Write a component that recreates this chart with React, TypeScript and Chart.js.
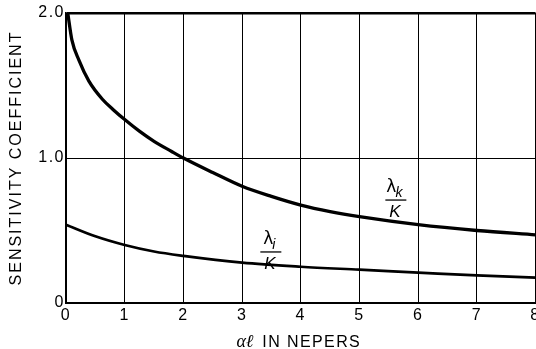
import React, { useEffect, useRef } from "react";
import { Chart, registerables } from "chart.js";

Chart.register(...registerables);

// ---- data ----
const xTickValues = [0, 1, 2, 3, 4, 5, 6, 7, 8];
const yTickValues = [0, 1, 2];
const yTickLabels = ["0", "1.0", "2.0"];

// lambda_k / K curve
const kX = [0.03, 0.1, 0.22, 0.39, 0.62, 0.8, 1, 1.25, 1.5, 1.8, 2, 2.5, 3, 3.5, 4, 4.5, 5, 6, 7, 8];
const kY = [2.0, 1.815, 1.675, 1.53, 1.405, 1.335, 1.265, 1.185, 1.115, 1.045, 1.0, 0.9, 0.805, 0.735, 0.675, 0.63, 0.595, 0.54, 0.5, 0.47];

// lambda_i / K curve
const iX = [0, 0.5, 1, 1.5, 2, 3, 4, 5, 6, 7, 8];
const iY = [0.54, 0.46, 0.4, 0.355, 0.325, 0.278, 0.25, 0.23, 0.21, 0.19, 0.175];

// curve label anchors (fraction-bar centre, data coordinates)
const kLabel = { x: 5.62, y: 0.71, sub: "k" };
const iLabel = { x: 3.49, y: 0.352, sub: "i" };

const yTitle = "SENSITIVITY COEFFICIENT";
const xTitleSymbol = "αℓ";
const xTitleText = "IN NEPERS";

const SANS = '"Liberation Sans", Arial, sans-serif';

function drawFraction(ctx: CanvasRenderingContext2D, cx: number, cy: number, sub: string) {
  ctx.save();
  (ctx as any).letterSpacing = "0px";
  ctx.fillStyle = "#000";
  ctx.strokeStyle = "#000";
  ctx.textBaseline = "alphabetic";
  ctx.textAlign = "left";
  ctx.font = '17px "DejaVu Sans", sans-serif';
  const lw = ctx.measureText("λ").width;
  ctx.font = 'italic 14px "Liberation Sans", sans-serif';
  const sw = ctx.measureText(sub).width;
  const total = lw + sw;
  const left = cx - total / 2 - 1;
  ctx.font = '17px "DejaVu Sans", sans-serif';
  ctx.fillText("λ", left, cy - 8);
  ctx.font = 'italic 14px "Liberation Sans", sans-serif';
  ctx.fillText(sub, left + lw - 1, cy - 3);
  ctx.lineWidth = 1.3;
  ctx.beginPath();
  ctx.moveTo(cx - 10.5, cy);
  ctx.lineTo(cx + 10.5, cy);
  ctx.stroke();
  ctx.font = 'italic 17px "Liberation Sans", sans-serif';
  ctx.textAlign = "center";
  ctx.fillText("K", cx - 1, cy + 17);
  ctx.restore();
}

const textPlugin = {
  id: "textPlugin",
  beforeDraw(chart: any) {
    (chart.ctx as any).letterSpacing = "1.5px";
  },
  afterDraw(chart: any) {
    const ctx: CanvasRenderingContext2D = chart.ctx;
    const { chartArea, scales } = chart;
    const xs = scales.x;
    const ys = scales.y;

    // curve labels
    drawFraction(ctx, xs.getPixelForValue(kLabel.x), ys.getPixelForValue(kLabel.y), kLabel.sub);
    drawFraction(ctx, xs.getPixelForValue(iLabel.x), ys.getPixelForValue(iLabel.y), iLabel.sub);

    // y axis title
    ctx.save();
    ctx.fillStyle = "#000";
    (ctx as any).letterSpacing = "2px";
    ctx.font = `16px ${SANS}`;
    ctx.textAlign = "center";
    ctx.textBaseline = "middle";
    ctx.translate(17, (chartArea.top + chartArea.bottom) / 2 + 1);
    ctx.rotate(-Math.PI / 2);
    ctx.fillText(yTitle, 1, 0);
    ctx.restore();

    // x axis title
    ctx.save();
    ctx.fillStyle = "#000";
    ctx.textBaseline = "alphabetic";
    ctx.textAlign = "left";
    (ctx as any).letterSpacing = "0px";
    ctx.font = 'italic 18px "Liberation Serif", "DejaVu Serif", serif';
    const symW = ctx.measureText(xTitleSymbol).width;
    (ctx as any).letterSpacing = "1.4px";
    ctx.font = `16px ${SANS}`;
    const txtW = ctx.measureText(xTitleText).width;
    const gap = 9;
    const totalW = symW + gap + txtW;
    const cx = (chartArea.left + chartArea.right) / 2 - 2;
    const startX = cx - totalW / 2;
    const baseY = 347;
    (ctx as any).letterSpacing = "0px";
    ctx.font = 'italic 18px "Liberation Serif", "DejaVu Serif", serif';
    ctx.fillText(xTitleSymbol, startX, baseY);
    (ctx as any).letterSpacing = "1.4px";
    ctx.font = `16px ${SANS}`;
    ctx.fillText(xTitleText, startX + symW + gap, baseY);
    ctx.restore();

    (ctx as any).letterSpacing = "0px";
  },
};

export default function App() {
  const ref = useRef<HTMLCanvasElement>(null);

  useEffect(() => {
    const canvas = ref.current;
    if (!canvas) return;
    const chart = new Chart(canvas, {
      type: "line",
      data: {
        datasets: [
          {
            label: "λk/K",
            data: kX.map((x, i) => ({ x, y: kY[i] })),
            borderColor: "#000",
            borderWidth: 3.3,
            pointRadius: 0,
            cubicInterpolationMode: "monotone",
            fill: false,
          },
          {
            label: "λi/K",
            data: iX.map((x, i) => ({ x, y: iY[i] })),
            borderColor: "#000",
            borderWidth: 2.7,
            pointRadius: 0,
            cubicInterpolationMode: "monotone",
            fill: false,
          },
        ],
      },
      options: {
        responsive: false,
        animation: false,
        devicePixelRatio: 1,
        layout: { padding: { left: 0, top: 13, right: 0, bottom: 0 } },
        plugins: {
          legend: { display: false },
          tooltip: { enabled: false },
        },
        scales: {
          x: {
            type: "linear",
            min: 0,
            max: 8,
            afterBuildTicks: (s: any) => {
              s.ticks = xTickValues.map((v) => ({ value: v }));
            },
            afterFit: (s: any) => {
              s.height = 46;
            },
            ticks: {
              color: "#000",
              font: { family: SANS, size: 16 },
              padding: 3,
              maxRotation: 0,
              autoSkip: false,
            },
            grid: { color: "#000", lineWidth: 1, drawTicks: false },
            border: { color: "#000", width: 2 },
          },
          y: {
            type: "linear",
            min: 0,
            max: 2,
            afterBuildTicks: (s: any) => {
              s.ticks = yTickValues.map((v) => ({ value: v }));
            },
            afterFit: (s: any) => {
              s.width = 66;
            },
            ticks: {
              color: "#000",
              font: { family: SANS, size: 16 },
              padding: 1,
              callback: (v: any) => yTickLabels[yTickValues.indexOf(Number(v))],
            },
            grid: {
              color: "#000",
              drawTicks: false,
              lineWidth: (c: any) => (c.tick && c.tick.value === 2 ? 2.5 : c.tick && c.tick.value === 0 ? 0 : 1),
            },
            border: { color: "#000", width: 1.5 },
          },
        },
      },
      plugins: [textPlugin],
    });
    return () => chart.destroy();
  }, []);

  return (
    <div
      style={{
        position: "fixed",
        left: 0,
        top: 0,
        width: 536,
        height: 349,
        overflow: "hidden",
        background: "#fff",
      }}
    >
      <canvas ref={ref} width={543} height={349} style={{ display: "block" }} />
    </div>
  );
}
